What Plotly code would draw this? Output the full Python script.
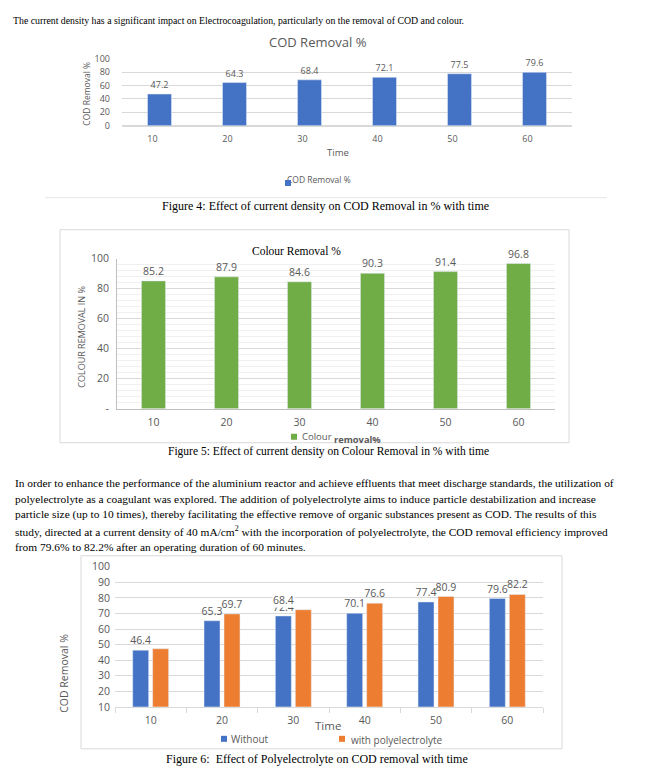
import plotly.graph_objects as go

# Page placement: the body keeps an 8 px margin; the captured picture is also slightly
# compressed vertically (measured: shown_y = 5.5 + 0.9815 * page_y), so target picture
# coordinates are converted to page coordinates before mapping to the paper.
OFF = 8
W, H = 652 - 2 * OFF, 767
SY, OY = 0.9815, 5.5


def fx(p):
    return (p - OFF) / W


def fy(p):
    page_y = (p - OY) / SY
    return 1 - (page_y - OFF) / H


# ---------------- data ----------------
time_labels = ["10", "20", "30", "40", "50", "60"]
cod_removal = [47.2, 64.3, 68.4, 72.1, 77.5, 79.6]
colour_removal = [85.2, 87.9, 84.6, 90.3, 91.4, 96.8]
cod_without = [46.4, 65.3, 68.4, 70.1, 77.4, 79.6]
cod_with = [47.3, 69.7, 72.4, 76.6, 80.9, 82.2]
with_label_visible = [False, True, False, True, True, True]
colour_ticks = [0, 20, 40, 60, 80, 100]
colour_ticktext = ["-", "20", "40", "60", "80", "100"]

name_cod = "COD Removal %"
name_colour = "Colour removal%"
name_without = "Without"
name_with = "with polyelectrolyte"

intro_line = ("The current density has a significant impact on Electrocoagulation, "
              "particularly on the removal of COD and colour.")
caption4 = "Figure 4: Effect of current density on COD Removal in % with time"
caption5 = "Figure 5: Effect of current density on Colour Removal in % with time"
caption6 = "Figure 6:  Effect of Polyelectrolyte on COD removal with time"
paragraph = [
    "In order to enhance the performance of the aluminium reactor and achieve effluents that meet discharge standards, the utilization of",
    "polyelectrolyte as a coagulant was explored. The addition of polyelectrolyte aims to induce particle destabilization and increase",
    "particle size (up to 10 times), thereby facilitating the effective remove of organic substances present as COD. The results of this",
    "study, directed at a current density of 40 mA/cm<sup>2</sup> with the incorporation of polyelectrolyte, the COD removal efficiency improved",
    "from 79.6% to 82.2% after an operating duration of 60 minutes.",
]

# ---------------- styles ----------------
BLUE = "#4472c4"
ORANGE = "#ed7d31"
GREEN = "#70ad47"
GRAY = "#595959"
GRID = "#d9d9d9"
SANS = "Open Sans"
SERIF = "Liberation Serif"

fig = go.Figure()

# Figure 4 chart
fig.add_trace(go.Bar(
    x=time_labels, y=cod_removal, name=name_cod, marker_color=BLUE,
    width=0.32, offset=-0.16,
    text=[f"{v:.1f}" for v in cod_removal], textposition="outside",
    textfont=dict(family=SANS, size=9, color=GRAY), constraintext="none",
    cliponaxis=False, showlegend=False, xaxis="x", yaxis="y"))

# Figure 5 chart
fig.add_trace(go.Bar(
    x=time_labels, y=colour_removal, name=name_colour, marker_color=GREEN,
    width=0.33, offset=-0.165,
    text=[f"{v:.1f}" for v in colour_removal], textposition="outside",
    textfont=dict(family=SANS, size=10.5, color=GRAY), constraintext="none",
    cliponaxis=False, showlegend=False, xaxis="x2", yaxis="y2"))

# Figure 6 chart
without_text = [f"{v:.1f}" if i != 2 else "" for i, v in enumerate(cod_without)]
with_text = [f"{v:.1f}" if show else "" for v, show in zip(cod_with, with_label_visible)]
fig.add_trace(go.Bar(
    x=time_labels, y=cod_without, name=name_without, marker_color=BLUE,
    text=without_text, textposition="outside",
    textfont=dict(family=SANS, size=10.5, color=GRAY), constraintext="none",
    cliponaxis=False, showlegend=False, xaxis="x3", yaxis="y3"))
fig.add_trace(go.Bar(
    x=time_labels, y=cod_with, name=name_with, marker_color=ORANGE,
    text=with_text, textposition="outside",
    textfont=dict(family=SANS, size=10.5, color=GRAY), constraintext="none",
    cliponaxis=False, showlegend=False, xaxis="x3", yaxis="y3"))

tickf = dict(family=SANS, color=GRAY)

layout = dict(
    width=W, height=H, margin=dict(l=0, r=0, t=0, b=0),
    paper_bgcolor="white", plot_bgcolor="white",
    barmode="group", bargap=0.44, bargroupgap=0.2,
    showlegend=False,
    xaxis=dict(domain=[fx(122), fx(572)], anchor="y", type="category",
               showgrid=False, showline=False, ticks="", zeroline=False,
               tickfont=dict(tickf, size=9), ticklabelshift=-7, ticklabelstandoff=6),
    yaxis=dict(domain=[fy(124), fy(57)], anchor="x", range=[0, 100], dtick=20,
               showgrid=True, gridcolor=GRID, zeroline=True, zerolinecolor=GRID,
               showline=False, ticks="", tickfont=dict(tickf, size=9),
               ticklabelstandoff=11),
    xaxis2=dict(domain=[fx(117), fx(555)], anchor="y2", type="category",
                showgrid=False, showline=True, linecolor="#bfbfbf", ticks="",
                tickfont=dict(tickf, size=10.5), ticklabelstandoff=4),
    yaxis2=dict(domain=[fy(407), fy(257)], anchor="x2", range=[0, 100],
                tickmode="array", tickvals=colour_ticks, ticktext=colour_ticktext,
                showgrid=True, gridcolor=GRID, zeroline=False,
                showline=True, linecolor="#bfbfbf", ticks="",
                minor=dict(tick0=0, dtick=4, showgrid=True, gridcolor="#f0f0f0", ticks=""),
                tickfont=dict(tickf, size=10.5), ticklabelstandoff=5),
    xaxis3=dict(domain=[fx(115), fx(543)], anchor="y3", type="category",
                showgrid=False, showline=True, linecolor=GRID,
                ticks="outside", tickson="boundaries", ticklen=5, tickcolor=GRID,
                tickfont=dict(tickf, size=10.5), ticklabelstandoff=4),
    yaxis3=dict(domain=[fy(705), fy(565)], anchor="x3", range=[10, 100], dtick=10,
                showgrid=True, gridcolor=GRID, zeroline=False, showline=False,
                ticks="", tickfont=dict(tickf, size=10.5), ticklabelstandoff=4),
)

ann = []


def txt(x, y, s, size, color="black", family=SERIF, xanchor="center", **kw):
    ann.append(dict(x=fx(x), y=fy(y), xref="paper", yref="paper", text=s,
                    showarrow=False, xanchor=xanchor, yanchor="middle",
                    font=dict(family=family, size=size, color=color), **kw))


# document text (the first line sits as high as the page margin allows)
txt(11, 18.5, intro_line, 9.8, xanchor="left")
txt(325, 204, caption4, 12)
txt(328, 450, caption5, 11.5)
txt(317, 757, caption6, 12)
for i, line in enumerate(paragraph):
    txt(13, 481 + i * 16, line, 11.4, xanchor="left")

# Figure 4 chart texts
txt(318, 40, name_cod, 13, GRAY, SANS)
txt(87, 92, name_cod, 8.5, GRAY, SANS, textangle=-90)
txt(338, 151, "Time", 9.5, GRAY, SANS)
txt(285, 178, name_cod, 8.5, GRAY, SANS, xanchor="left")
ann.append(dict(x=fx(287.5), y=fy(178), xref="paper", yref="paper", text=" ",
                showarrow=False, width=6, height=6, bgcolor=BLUE, borderpad=0,
                borderwidth=0, font=dict(size=4)))

# Figure 5 chart texts
txt(296, 249, "Colour Removal %", 11.5, "black", SERIF)
txt(82, 335, "COLOUR REMOVAL IN %", 9, GRAY, SANS, textangle=-90)
c1, c2 = name_colour.split(" ", 1)
txt(300, 435, c1, 9.5, GRAY, SANS, xanchor="left")
txt(332, 437.5, "<b>" + c2 + "</b>", 9.3, GRAY, SANS, xanchor="left")

# Figure 6 chart texts
txt(64, 671, "COD Removal %", 10.5, GRAY, SANS, textangle=-90)
txt(328, 724, "Time", 11.5, GRAY, SANS)
txt(229, 737, name_without, 10, GRAY, SANS, xanchor="left")
txt(349, 738, name_with, 10, GRAY, SANS, xanchor="left")
# overlapping labels at t = 30 (both drawn over the "Without" bar as in the original)
i30 = time_labels.index("30")
ann.append(dict(x=i30, y=cod_without[i30], xref="x3", yref="y3",
                text=f"{cod_with[i30]:.1f}", showarrow=False,
                xshift=-10, yanchor="bottom", yshift=0,
                font=dict(family=SANS, size=10.5, color=GRAY)))
ann.append(dict(x=i30, y=cod_without[i30], xref="x3", yref="y3",
                text=f"{cod_without[i30]:.1f}", showarrow=False, xshift=-10,
                yanchor="bottom", yshift=8, bgcolor="white", borderpad=0,
                font=dict(family=SANS, size=10.5, color=GRAY)))

shapes = [
    dict(type="rect", xref="paper", yref="paper", x0=fx(60), x1=fx(569),
         y0=fy(441), y1=fy(228), line=dict(color=GRID, width=1)),
    dict(type="rect", xref="paper", yref="paper", x0=fx(81), x1=fx(562),
         y0=fy(747), y1=fy(554), line=dict(color=GRID, width=1)),
    dict(type="line", xref="paper", yref="paper", x0=fx(45), x1=fx(607),
         y0=fy(196), y1=fy(196), line=dict(color="#e7e7e7", width=1)),
    dict(type="rect", xref="paper", yref="paper", x0=fx(291), x1=fx(297),
         y0=fy(438), y1=fy(432), fillcolor=GREEN, line=dict(width=0)),
    dict(type="rect", xref="paper", yref="paper", x0=fx(221), x1=fx(227),
         y0=fy(740), y1=fy(734), fillcolor=BLUE, line=dict(width=0)),
    dict(type="rect", xref="paper", yref="paper", x0=fx(339), x1=fx(345),
         y0=fy(740), y1=fy(734), fillcolor=ORANGE, line=dict(width=0)),
]

layout["annotations"] = ann
layout["shapes"] = shapes
fig.update_layout(**layout)

fig.write_html("out.html")
